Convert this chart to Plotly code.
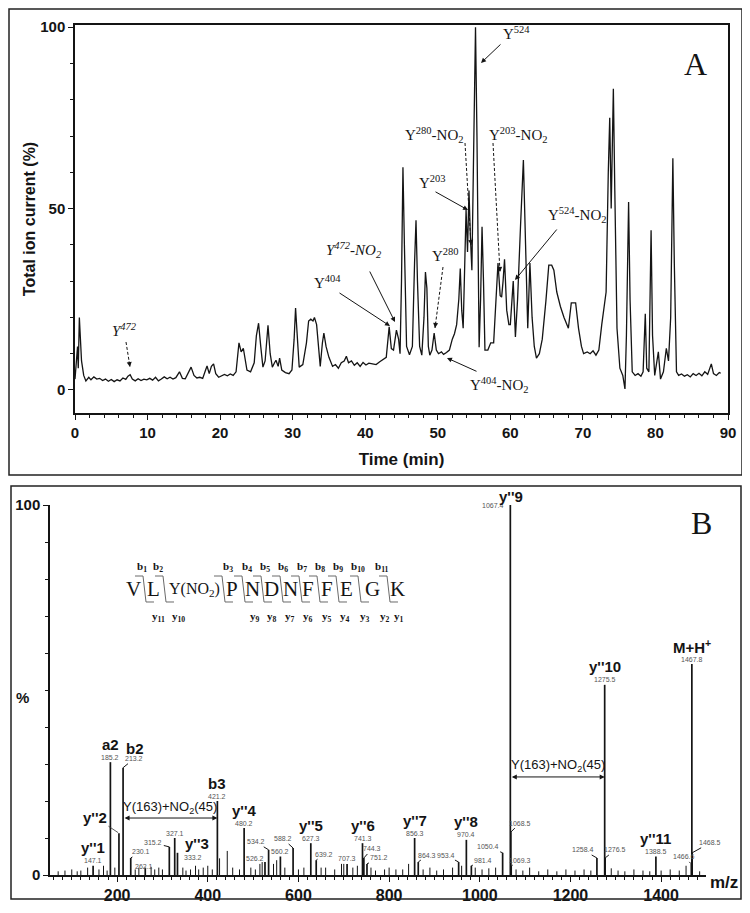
import plotly.graph_objects as go

# The page body has an 8px margin, so the figure is drawn offset by OFF pixels.
OFF = 8
W, H = 742, 897


def px(x):
    return (x - OFF) / W


def py(y):
    return 1 - (y - OFF) / H


SANS = "Liberation Sans"
SERIF = "Liberation Serif"
INK = "#141414"

# ---------------- Panel A: total ion current chromatogram ----------------
time_min = [
    0.0, 0.2, 0.35, 0.45, 0.6, 0.75, 0.9, 1.2, 1.5,
    1.9, 2.2, 2.6, 3.0, 3.4, 3.8, 4.2, 4.6, 5.0, 5.4,
    5.8, 6.2, 6.6, 7.0, 7.3, 7.6, 7.9, 8.3, 8.7, 9.1,
    9.5, 9.9, 10.3, 10.7, 11.1, 11.5, 11.9, 12.3, 12.7, 13.1,
    13.5, 13.9, 14.4, 14.8, 15.2, 15.6, 16.0, 16.4, 16.8, 17.2,
    17.6, 18.0, 18.2, 18.5, 18.8, 19.1, 19.4, 19.8, 20.2, 20.6,
    21.0, 21.4, 21.8, 22.2, 22.6, 22.9, 23.2, 23.4, 23.7, 24.2,
    24.7, 25.0, 25.3, 25.6, 25.9, 26.2, 26.6, 26.9, 27.2, 27.5,
    27.7, 28.0, 28.2, 28.5, 29.0, 29.5, 29.9, 30.2, 30.4, 30.6,
    30.9, 31.4, 31.9, 32.2, 32.5, 32.8, 33.0, 33.3, 33.6, 33.8,
    34.1, 34.3, 34.6, 35.0, 35.5, 35.9, 36.3, 36.7, 37.1, 37.4,
    37.7, 38.1, 38.5, 38.9, 39.3, 39.7, 40.1, 40.5, 41.0, 41.5,
    42.0, 42.5, 42.9, 43.3, 43.6, 43.9, 44.3, 44.6, 44.8, 45.0,
    45.2, 45.4, 45.7, 46.1, 46.5, 46.8, 47.0, 47.2, 47.5, 47.8,
    48.1, 48.3, 48.5, 48.7, 48.9, 49.2, 49.5, 49.8, 50.1, 50.5,
    50.8, 51.2, 51.6, 52.0, 52.3, 52.6, 52.9, 53.1, 53.3, 53.5,
    53.7, 53.9, 54.1, 54.3, 54.5, 54.7, 54.9, 55.2, 55.4, 55.6,
    55.7, 55.9, 56.1, 56.3, 56.5, 56.9, 57.3, 57.7, 58.0, 58.3,
    58.6, 58.8, 59.0, 59.2, 59.5, 59.8, 60.0, 60.4, 60.7, 61.0,
    61.4, 61.8, 62.1, 62.4, 62.7, 63.0, 63.3, 63.6, 64.0, 64.4,
    64.9, 65.3, 65.7, 66.0, 66.4, 66.9, 67.4, 68.0, 68.4, 69.0,
    69.4, 69.8, 70.1, 70.6, 71.0, 71.4, 71.8, 72.2, 72.6, 73.2,
    73.5, 73.7, 73.9, 74.2, 74.4, 74.7, 75.1, 75.5, 75.8, 76.0,
    76.3, 76.5, 76.8, 77.2, 77.6, 78.0, 78.3, 78.6, 78.8, 79.1,
    79.4, 79.6, 79.9, 80.2, 80.4, 80.7, 81.1, 81.5, 81.8, 82.1,
    82.4, 82.6, 82.9, 83.2, 83.6, 84.0, 84.4, 84.8, 85.2, 85.6,
    86.0, 86.4, 86.8, 87.2, 87.7, 88.0, 88.4, 88.8, 89.0,
]
tic_pct = [
    3, 9, 12, 6, 20, 14, 8, 4, 2.5,
    3.5, 2.8, 3.6, 3.0, 3.2, 2.6, 3.0, 2.4, 2.9, 2.3,
    2.8, 2.5, 3.3, 2.9, 3.8, 4.2, 3.0, 2.5, 3.1, 2.6,
    3.0, 2.8, 3.2, 2.7, 3.5, 2.5, 3.0, 3.6, 3.1, 3.5,
    3.0, 3.4, 5.0, 3.2, 3.1, 4.5, 6.3, 4.0, 3.3, 3.5,
    3.2, 5.5, 6.6, 4.5, 6.5, 7.2, 4.5, 3.5, 3.8, 4.3,
    3.9, 4.4, 4.0, 5.0, 13, 10.5, 11.5, 9.5, 5.5, 5.0,
    7.5, 15, 18.4, 12, 6.3, 8, 17.8, 10, 6.3, 7.5,
    8.2, 6.5, 8.8, 5.5, 4.8, 4.5, 5.5, 14, 22.6, 16,
    6.3, 7, 13, 19, 19.5, 19, 20, 18, 12, 6.5,
    13, 15.7, 12, 9, 6.5, 7.0, 6.0, 7.5, 8.0, 9.3,
    7.5, 8.0, 6.8, 7.5, 6.5, 7.6, 6.9, 7.4, 7.2, 7.0,
    7.8, 8.5, 9.0, 17.4, 11.4, 11.0, 16.5, 14, 10, 30,
    61.4, 40, 12, 9.7, 12, 35, 46.8, 30, 12, 9.6,
    20, 32.5, 28, 12, 9.6, 11, 15.7, 11, 10, 10.5,
    9.8, 10.3, 11, 14, 15.5, 18, 25, 33.5, 22, 17,
    30, 49.6, 38, 55, 42, 33, 60, 100, 70, 30,
    11.8, 25, 45, 30, 11, 11, 13, 13, 23, 35,
    26, 25.6, 30, 36, 22, 18, 18, 30, 14.6, 25,
    45, 63.4, 40, 17, 35, 20, 12, 8.8, 10, 14,
    24.5, 34.4, 34.4, 33, 27, 23, 20, 17, 24, 24,
    17, 12, 10, 10.5, 10, 10.8, 9.6, 11, 18, 27,
    60, 75, 50, 83, 55, 17, 6, 4, 0.3, 15,
    51.8, 25, 5, 4, 4.5, 3.8, 5, 21, 6, 5,
    44, 15, 4, 8, 10.5, 3, 5, 11.5, 8, 20,
    63.9, 35, 5, 4, 4.4, 3.8, 4.2, 3.6, 4.5, 4.0,
    4.6, 3.9, 5.0, 4.3, 7.2, 4.5, 4.0, 4.8, 4.6,
]
assert len(time_min) == len(tic_pct)

a_xticks = [0, 10, 20, 30, 40, 50, 60, 70, 80, 90]
a_yticks = [0, 50, 100]

# ---------------- Panel B: MS/MS spectrum ----------------
peak_mz = [147.1, 185.2, 204.1, 213.2, 230.1, 262.1, 315.2, 327.1, 333.2,
           421.2, 480.2, 526.2, 534.2, 560.2, 588.2, 627.3, 639.2, 707.3,
           741.3, 744.3, 751.2, 856.3, 864.3, 953.4, 970.4, 981.4, 1050.4,
           1067.4, 1068.5, 1069.3, 1258.4, 1275.5, 1276.5, 1388.5, 1466.6,
           1467.8, 1468.5]
peak_int = [2.5, 30.5, 11.3, 29, 4.6, 2, 7.6, 10, 6,
            20, 12.7, 3.5, 6.8, 5, 7.3, 8.6, 4, 3,
            8.6, 4.6, 3, 10, 3.5, 3.5, 9.5, 2.5, 6,
            100, 11.6, 2.4, 4.6, 51.4, 4.6, 5, 3,
            57, 6]
assert len(peak_mz) == len(peak_int)

noise_mz = [70, 85, 100, 112, 120, 135, 160, 170, 178, 195, 240, 248, 275, 283,
            292, 300, 345, 352, 362, 373, 380, 390, 400, 410, 426, 443, 455,
            470, 495, 505, 515, 520, 545, 552, 570, 600, 612, 650, 660, 680,
            695, 700, 720, 730, 760, 770, 790, 800, 815, 830, 843, 875, 890,
            905, 920, 940, 960, 990, 1005, 1020, 1035, 1080, 1095, 1110, 1130,
            1150, 1170, 1190, 1210, 1230, 1245, 1290, 1305, 1320, 1340, 1360,
            1375, 1400, 1420, 1440, 1455, 1485]
noise_int = [1, 1.2, 1.5, 1.0, 1.2, 2.0, 1.5, 2.5, 1.2, 2.0, 1.5, 2.0, 2.2, 1.5,
             2.0, 1.5, 2.0, 1.2, 1.5, 2.5, 1.5, 2.0, 2.5, 1.5, 4.5, 6.5, 2.0,
             1.5, 2.0, 1.5, 3.0, 3.5, 3.0, 4.0, 2.0, 1.5, 2.0, 2.0, 2.0, 1.5,
             3.0, 3.0, 2.0, 2.5, 2.0, 1.2, 1.5, 2.0, 1.5, 1.5, 3.0, 1.5, 2.0,
             1.2, 1.5, 2.0, 2.5, 2.0, 1.5, 1.8, 2.0, 1.5, 1.2, 2.0, 1.0,
             1.5, 1.0, 1.5, 1.2, 1.5, 1.2, 1.8, 1.2, 1.0, 1.5, 1.2,
             1.0, 1.2, 1.5, 1.2, 2.5, 1.0]
assert len(noise_mz) == len(noise_int)

ion_names = {147.1: "y''1", 185.2: "a2", 204.1: "y''2", 213.2: "b2",
             333.2: "y''3", 421.2: "b3", 480.2: "y''4", 627.3: "y''5",
             741.3: "y''6", 856.3: "y''7", 970.4: "y''8", 1067.4: "y''9",
             1275.5: "y''10", 1388.5: "y''11", 1467.8: "M+H<sup>+</sup>"}
no_number = {204.1}
b_xticks = [200, 400, 600, 800, 1000, 1200, 1400]

# neutral loss brackets: (from m/z, to m/z, level %)
loss_brackets = [(213.2, 421.2, 15.4), (1067.4, 1275.5, 26.5)]
loss_text = "Y(163)+NO<sub>2</sub>(45)"

# peptide sequence
residues = ["V", "L", "Y(NO<sub>2</sub>)", "P", "N", "D", "N", "F", "F", "E", "G", "K"]
b_ions = ["b<sub>%d</sub>" % i for i in range(1, 12)]
y_ions = ["y<sub>%d</sub>" % i for i in range(11, 0, -1)]

# ---------------- layout positions (reference pixels) ----------------
A_L, A_R, A_T, A_B = 75, 728, 25, 413
B_L, B_R, B_T, B_B = 50, 706, 505, 875

res_x = [133, 153, 194, 232, 252, 271, 290, 308, 327, 346, 372, 398]
site_x = [143, 163, 222, 242, 261, 280, 299, 317, 336, 358, 387]
b_lab_x = [142, 158, 228, 247, 265, 283, 302, 320, 338, 358, 382]
y_lab_x = [158, 178, 255, 272, 290, 308, 327, 345, 365, 385, 399]

hook_off = {213.2: (11, -9), 230.1: (10, -6), 315.2: (-16, -4), 526.2: (-10, -4),
            534.2: (-13, -8), 588.2: (-10, -9), 639.2: (8, -6), 744.3: (8, -9),
            751.2: (12, -6), 864.3: (9, -7), 953.4: (-13, -7), 981.4: (12, -5),
            1050.4: (-15, -6), 1068.5: (9, -9), 1069.3: (9, -6), 1258.4: (-14, -8),
            1276.5: (10, -8), 1466.6: (-7, -7), 1468.5: (18, -10)}
name_shift = {213.2: (12, 19), 1067.4: (1, 9), 333.2: (20, 9)}
num_shift = {1067.4: (-17, 0), 333.2: (16, -5), 262.1: (-1, 1)}

fig = go.Figure()

fig.add_trace(go.Scatter(x=time_min, y=tic_pct, mode="lines",
                         line=dict(color=INK, width=1.3),
                         xaxis="x", yaxis="y", hoverinfo="skip"))


def sticks(xs, ys):
    sx, sy = [], []
    for m, v in zip(xs, ys):
        sx += [m, m, None]
        sy += [0, v, None]
    return sx, sy


nx, ny = sticks(noise_mz, noise_int)
fig.add_trace(go.Scatter(x=nx, y=ny, mode="lines", line=dict(color=INK, width=1),
                         xaxis="x2", yaxis="y2", hoverinfo="skip"))
sx, sy = sticks(peak_mz, peak_int)
fig.add_trace(go.Scatter(x=sx, y=sy, mode="lines", line=dict(color=INK, width=1.7),
                         xaxis="x2", yaxis="y2", hoverinfo="skip"))

ann = []
shapes = []


def ptext(text, x, y, font):
    ann.append(dict(text=text, x=px(x), y=py(y), xref="paper", yref="paper",
                    showarrow=False, font=font, xanchor="center", yanchor="middle"))


def a_text(text, x, y, size=15, italic=False):
    t = "<i>%s</i>" % text if italic else text
    ptext(t, x, y, dict(family=SERIF, size=size, color=INK))


def a_arrow(tail, head, dashed=False):
    (tx, ty), (hx, hy) = tail, head
    if dashed:
        shapes.append(dict(type="line", xref="paper", yref="paper",
                           x0=px(tx), y0=py(ty), x1=px(hx), y1=py(hy),
                           line=dict(color=INK, width=1, dash="3px,2px")))
        dx, dy = tx - hx, ty - hy
        n = (dx * dx + dy * dy) ** 0.5
        ann.append(dict(text="", x=px(hx), y=py(hy), xref="paper", yref="paper",
                        ax=dx / n * 7, ay=dy / n * 7, showarrow=True, arrowhead=2,
                        arrowsize=1, arrowwidth=1, arrowcolor=INK, standoff=0))
    else:
        ann.append(dict(text="", x=px(hx), y=py(hy), xref="paper", yref="paper",
                        ax=tx - hx, ay=ty - hy, showarrow=True, arrowhead=2,
                        arrowsize=1, arrowwidth=1, arrowcolor=INK, standoff=0))


a_text("Y<sup>472</sup>", 124, 330, italic=True)
a_arrow((126, 342), (130, 367), dashed=True)
a_text("Y<sup>404</sup>", 327, 282)
a_arrow((338, 292), (390, 326))
a_text("Y<sup>472</sup>-NO<sub>2</sub>", 354, 250, italic=True)
a_arrow((369, 270), (395, 322))
a_text("Y<sup>280</sup>", 445, 255)
a_arrow((443, 267), (435, 328), dashed=True)
a_text("Y<sup>203</sup>", 432, 182)
a_arrow((434, 191), (468, 210))
a_text("Y<sup>280</sup>-NO<sub>2</sub>", 434, 135)
a_arrow((465, 143), (471, 245), dashed=True)
a_text("Y<sup>203</sup>-NO<sub>2</sub>", 519, 135)
a_arrow((493, 143), (500, 272), dashed=True)
a_text("Y<sup>524</sup>", 516, 33)
a_arrow((502, 43), (481, 63))
a_text("Y<sup>524</sup>-NO<sub>2</sub>", 577, 215)
a_arrow((558, 228), (515, 280))
a_text("Y<sup>404</sup>-NO<sub>2</sub>", 499, 385)
a_arrow((478, 372), (447, 358))
a_text("A", 695, 64, size=32)

NUM_FONT = dict(family=SANS, size=7, color="#555")
NAME_FONT = dict(family=SANS, size=15, color=INK)

for m, v in zip(peak_mz, peak_int):
    if m in hook_off:
        dx, dy = hook_off[m]
        ann.append(dict(text="%.1f" % m, x=m, y=v, xref="x2", yref="y2",
                        ax=dx, ay=dy, showarrow=True, arrowhead=0, arrowwidth=1,
                        arrowcolor=INK, standoff=0, font=NUM_FONT))
    elif m not in no_number:
        xs_, ys_ = num_shift.get(m, (0, 5))
        ann.append(dict(text="%.1f" % m, x=m, y=v, xref="x2", yref="y2",
                        showarrow=False, xshift=xs_, yshift=ys_, font=NUM_FONT,
                        xanchor="center", yanchor="middle"))
    if m in ion_names:
        name = "<b>%s</b>" % ion_names[m]
        if m == 204.1:
            ann.append(dict(text=name, x=m, y=v, xref="x2", yref="y2", ax=-24, ay=-16,
                            showarrow=True, arrowhead=0, arrowwidth=0.8,
                            arrowcolor="#333", standoff=1, font=NAME_FONT))
        else:
            xs_, ys_ = name_shift.get(m, (0, 18))
            ann.append(dict(text=name, x=m, y=v, xref="x2", yref="y2",
                            showarrow=False, xshift=xs_, yshift=ys_, font=NAME_FONT,
                            xanchor="center", yanchor="middle"))

for m0, m1, lvl in loss_brackets:
    ann.append(dict(text="", x=m1, y=lvl, ax=m0, ay=lvl, xref="x2", yref="y2",
                    axref="x2", ayref="y2", showarrow=True, arrowhead=2,
                    arrowside="end+start", arrowsize=1, arrowwidth=1,
                    arrowcolor=INK, standoff=0, startstandoff=0))
    ann.append(dict(text=loss_text, x=(m0 + m1) / 2, y=lvl, xref="x2", yref="y2",
                    showarrow=False, yshift=11, xanchor="center", yanchor="middle",
                    font=dict(family=SANS, size=13, color=INK)))

# peptide sequence diagram
for r, x in zip(residues, res_x):
    size = 16 if "NO" in r else 21
    ptext(r, x, 589, dict(family=SERIF, size=size, color=INK))
for t, x in zip(b_ions, b_lab_x):
    ptext("<b>%s</b>" % t, x, 567, dict(family=SERIF, size=11, color=INK))
for t, x in zip(y_ions, y_lab_x):
    ptext("<b>%s</b>" % t, x, 617, dict(family=SERIF, size=11, color=INK))
for x in site_x:
    path = "M %f %f L %f %f L %f %f L %f %f" % (
        px(x - 8), py(576), px(x), py(576), px(x + 3), py(602), px(x + 11), py(602))
    shapes.append(dict(type="path", path=path, xref="paper", yref="paper",
                       line=dict(color="#6a6a6a", width=1)))

ptext("B", 701, 523, dict(family=SERIF, size=32, color=INK))
ptext("<b>%</b>", 22, 697, dict(family=SANS, size=15, color=INK))
ptext("<b>m/z</b>", 724, 882, dict(family=SANS, size=17, color=INK))

shapes.append(dict(type="rect", xref="paper", yref="paper", x0=px(9), x1=px(742),
                   y0=py(475), y1=py(9), line=dict(color="#222", width=1.5)))
shapes.append(dict(type="rect", xref="paper", yref="paper", x0=px(11), x1=px(741),
                   y0=py(899), y1=py(486), line=dict(color="#222", width=1.5)))

TICKF = dict(family=SANS, size=15, color=INK, weight="bold")

fig.update_layout(
    width=W, height=H, margin=dict(l=0, r=0, t=0, b=0, autoexpand=False),
    paper_bgcolor="white", plot_bgcolor="white", showlegend=False,
    annotations=ann, shapes=shapes,
    xaxis=dict(domain=[px(A_L), px(A_R)], range=[0, 90], anchor="y", automargin=False,
               tickvals=a_xticks, ticks="outside", ticklen=5, tickwidth=1.2,
               tickcolor=INK, showline=True, linecolor=INK, linewidth=1.5,
               mirror=True, showgrid=False, zeroline=False, tickfont=TICKF,
               minor=dict(dtick=2, ticks="outside", ticklen=3, tickcolor=INK, showgrid=False),
               title=dict(text="<b>Time (min)</b>", standoff=13,
                          font=dict(family=SANS, size=17, color=INK))),
    yaxis=dict(domain=[py(A_B), py(A_T)], range=[-6.35, 100.6], anchor="x", automargin=False,
               tickvals=a_yticks, ticks="outside", ticklen=5, tickwidth=1.2,
               tickcolor=INK, showline=True, linecolor=INK, linewidth=1.5,
               mirror=True, showgrid=False, zeroline=False, tickfont=TICKF,
               minor=dict(dtick=10, ticks="outside", ticklen=3, tickcolor=INK, showgrid=False),
               title=dict(text="<b>Total ion current (%)</b>", standoff=1,
                          font=dict(family=SANS, size=16, color=INK))),
    xaxis2=dict(domain=[px(B_L), px(B_R)], range=[52, 1499], anchor="y2", automargin=False,
                tickvals=b_xticks, ticks="outside", ticklen=5, tickwidth=1.2,
                tickcolor=INK, showline=True, linecolor=INK, linewidth=1.5,
                showgrid=False, zeroline=False,
                tickfont=dict(family=SANS, size=16, color=INK, weight="bold"),
                minor=dict(dtick=20, ticks="outside", ticklen=3, tickcolor=INK, showgrid=False)),
    yaxis2=dict(domain=[py(B_B), py(B_T)], range=[0, 100], anchor="x2", automargin=False,
                tickvals=[0, 100], ticks="outside", ticklen=5, tickwidth=1.2,
                tickcolor=INK, showline=True, linecolor=INK, linewidth=1.5,
                showgrid=False, zeroline=False, tickfont=TICKF,
                minor=dict(dtick=10, ticks="outside", ticklen=3, tickcolor=INK, showgrid=False)),
)

fig.write_html("out.html")
